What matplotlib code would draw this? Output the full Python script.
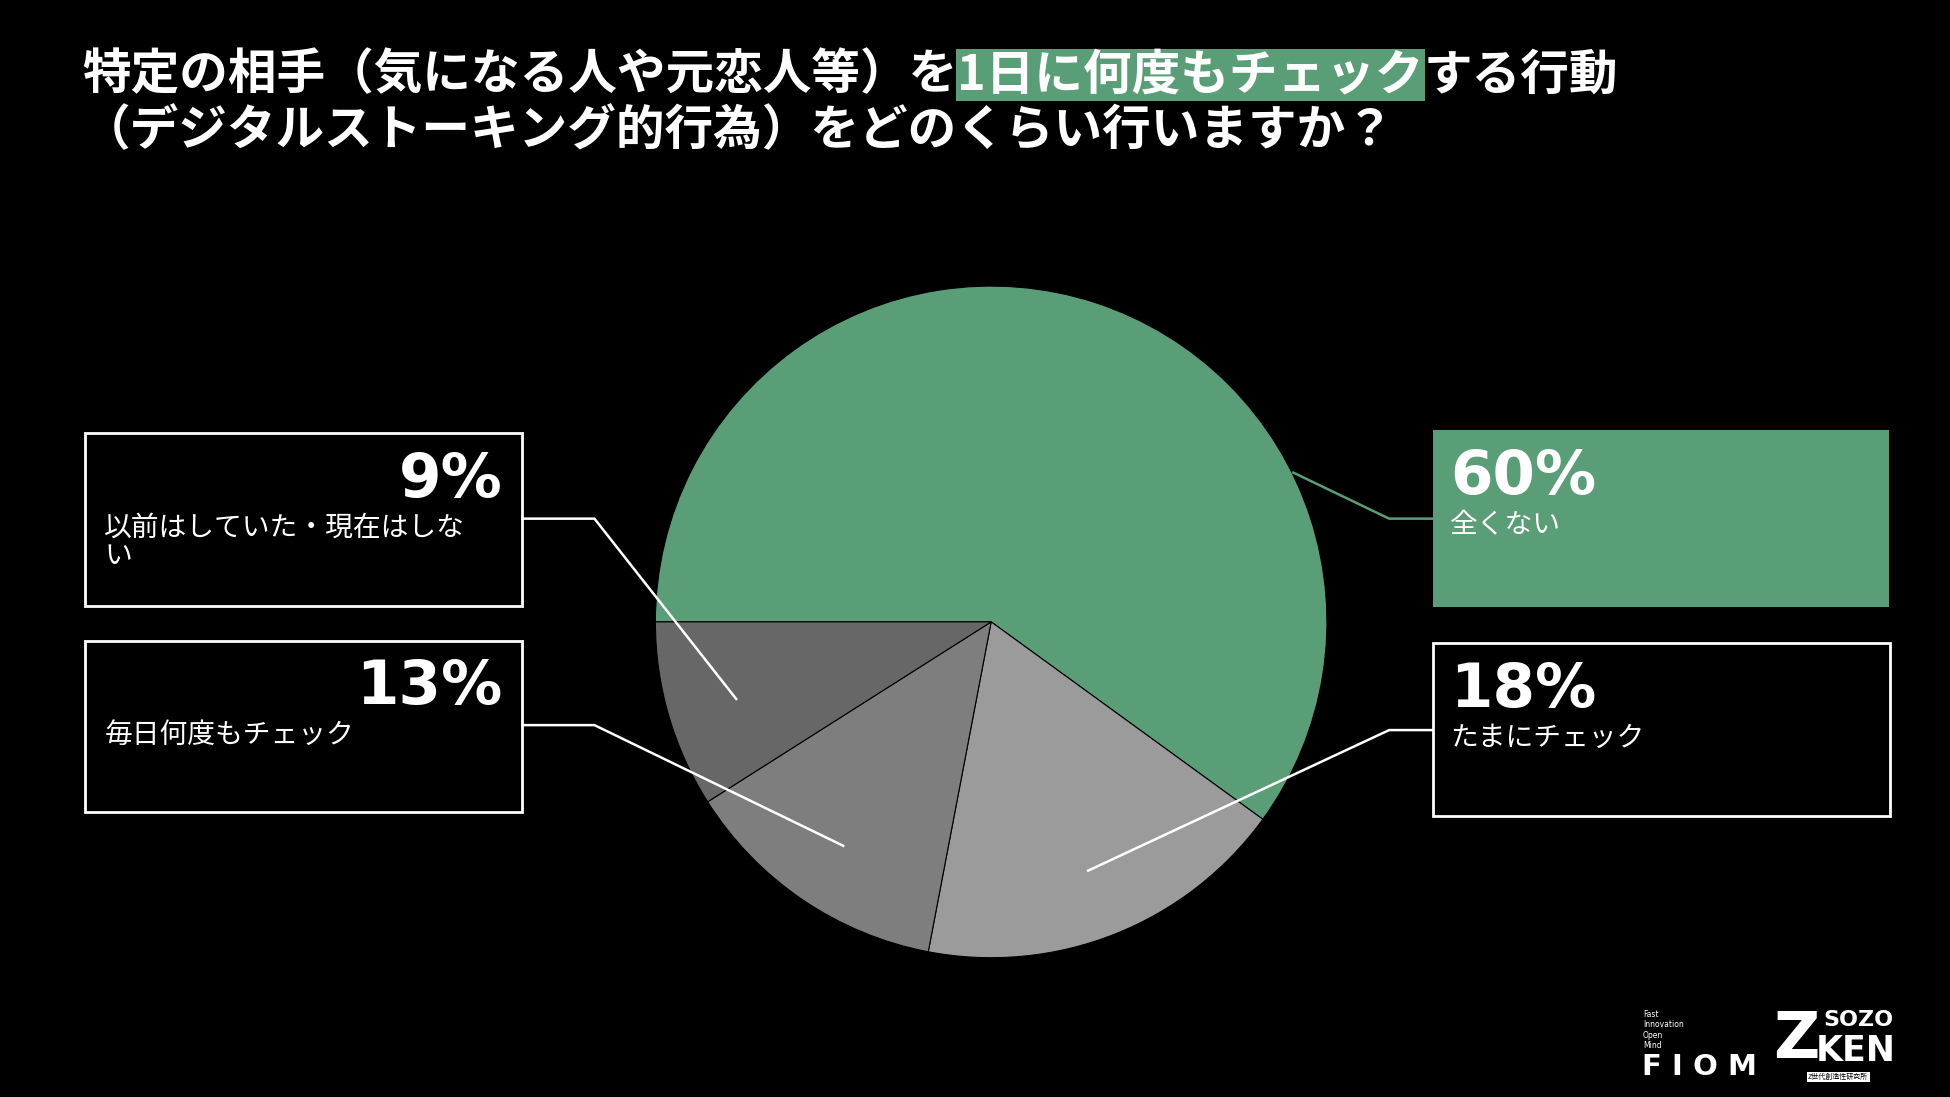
import matplotlib
matplotlib.use("Agg")
import matplotlib.pyplot as plt
from matplotlib.patches import Rectangle

plt.rcParams['font.family'] = ['Noto Sans CJK JP', 'DejaVu Sans']

labels = ['全くない', 'たまにチェック', '毎日何度もチェック', '以前はしていた・現在はしない']
values = [60, 18, 13, 9]
colors = ['#5a9e78', '#9b9b9b', '#7e7e7e', '#676767']

W, H = 1568, 882
fig = plt.figure(figsize=(19.5, 10.97), dpi=100, facecolor='black')
def fx(x): return x / W
def fy(y): return 1 - y / H

cx, cy, r = 797, 500, 270
ax = fig.add_axes([fx(cx - r), fy(cy + r), 2 * r / W, 2 * r / H])
ax.pie(values, colors=colors, startangle=180, counterclock=False,
       wedgeprops=dict(edgecolor='black', linewidth=0.8))
ax.set_aspect('auto')
ax.set_xlim(-1, 1); ax.set_ylim(-1, 1)
ax.axis('off')

# title
fig.canvas.draw()
rend = fig.canvas.get_renderer()
fs = 35
x = fx(66)
parts = [('特定の相手（気になる人や元恋人等）を', None), ('1日に何度もチェック', '#5a9e78'), ('する行動', None)]
for s, bg in parts:
    t = fig.text(x, fy(60), s, color='white', fontsize=fs, fontweight='bold', va='center', ha='left')
    if bg:
        t.set_bbox(dict(facecolor=bg, edgecolor='none', pad=1))
    bb = t.get_window_extent(rend)
    x += bb.width / fig.bbox.width
fig.text(fx(66), fy(105), '（デジタルストーキング的行為）をどのくらい行いますか？', color='white',
         fontsize=fs, fontweight='bold', va='center', ha='left')

boxes = [
    (68, 348, 420, 487, '9%', '以前はしていた・現在はしな\nい', None, [(420, 417), (478, 417), (592, 562)], 'left'),
    (68, 515, 420, 653, '13%', '毎日何度もチェック', None, [(420, 583), (478, 583), (678, 680)], 'left'),
    (1152, 346, 1519, 488, '60%', '全くない', '#5a9e78', [(1152, 417), (1117, 417), (1040, 380)], 'right'),
    (1152, 517, 1520, 656, '18%', 'たまにチェック', None, [(1152, 587), (1117, 587), (875, 700)], 'right'),
]
for x0, y0, x1, y1, pct, lab, fill, pts, side in boxes:
    if fill:
        fig.patches.append(Rectangle((fx(x0), fy(y1)), (x1 - x0) / W, (y1 - y0) / H,
                                     transform=fig.transFigure, facecolor=fill, edgecolor='none'))
    else:
        fig.patches.append(Rectangle((fx(x0), fy(y1)), (x1 - x0) / W, (y1 - y0) / H,
                                     transform=fig.transFigure, facecolor='none', edgecolor='white', linewidth=2))
    lc = '#5a9e78' if fill else 'white'
    fig.add_artist(plt.Line2D([fx(p[0]) for p in pts], [fy(p[1]) for p in pts],
                              transform=fig.transFigure, color=lc, linewidth=1.8))
    if side == 'left':
        fig.text(fx(x1 - 16), fy(y0 + 38), pct, color='white', fontsize=44, fontweight='bold',
                 ha='right', va='center', family=['DejaVu Sans'])
        fig.text(fx(x0 + 16), fy(y0 + 64), lab, color='white', fontsize=20, ha='left', va='top',
                 linespacing=0.95)
    else:
        fig.text(fx(x0 + 14), fy(y0 + 38), pct, color='white', fontsize=44, fontweight='bold',
                 ha='left', va='center', family=['DejaVu Sans'])
        fig.text(fx(x0 + 14), fy(y0 + 64), lab, color='white', fontsize=20, ha='left', va='top')

# logos
fig.text(fx(1321), fy(828), 'Fast\nInnovation\nOpen\nMind', color='white', fontsize=5.5,
         ha='left', va='center', linespacing=1.2, family=['DejaVu Sans'])
fig.text(fx(1320), fy(858), 'F I O M', color='white', fontsize=21, fontweight='bold',
         ha='left', va='center', family=['DejaVu Sans'])
fig.text(fx(1426), fy(836), 'Z', color='white', fontsize=46, fontweight='bold',
         ha='left', va='center', family=['DejaVu Sans'])
fig.text(fx(1466), fy(820), 'SOZO', color='white', fontsize=16, fontweight='bold',
         ha='left', va='center', family=['DejaVu Sans'])
fig.text(fx(1460), fy(845), 'KEN', color='white', fontsize=25, fontweight='bold',
         ha='left', va='center', family=['DejaVu Sans'])
fig.text(fx(1478), fy(866), 'Z世代創造性研究所', color='black', fontsize=5, ha='center', va='center',
         bbox=dict(facecolor='white', edgecolor='none', pad=1))

fig.savefig('out.png', dpi=100, facecolor='black')
